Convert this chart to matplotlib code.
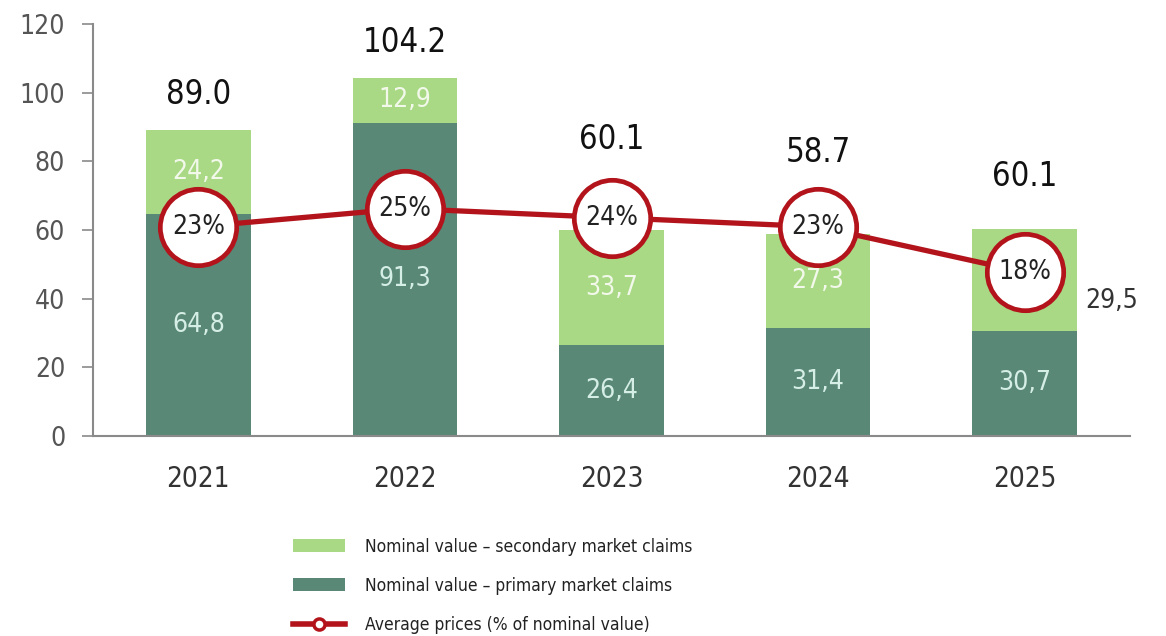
import matplotlib
matplotlib.use("Agg")
import matplotlib.pyplot as plt
from matplotlib.lines import Line2D
from matplotlib.patches import Patch

plt.rcParams["font.family"] = ["DejaVu Sans"]
plt.rcParams["font.stretch"] = "condensed"

years = ["2021", "2022", "2023", "2024", "2025"]
primary = [64.8, 91.3, 26.4, 31.4, 30.7]
secondary = [24.2, 12.9, 33.7, 27.3, 29.5]
totals = [89.0, 104.2, 60.1, 58.7, 60.1]
avg_price_pct = [23, 25, 24, 23, 18]

primary_labels = ["64,8", "91,3", "26,4", "31,4", "30,7"]
secondary_labels = ["24,2", "12,9", "33,7", "27,3", "29,5"]
total_labels = ["89.0", "104.2", "60.1", "58.7", "60.1"]

# heights at which the totals are printed (kept clear of the price markers)
total_label_y = [99.5, 114.5, 86.5, 82.5, 75.5]

C_LIGHT = "#a9d985"
C_DARK = "#598877"
C_RED = "#b3141c"
C_AXIS = "#8a8a8a"

fig = plt.figure(figsize=(11.66, 6.36), dpi=100)
ax = fig.add_axes([93 / 1166, 200 / 636, (1130 - 93) / 1166, 412 / 636])

x = list(range(len(years)))
w = 0.505
ax.bar(x, primary, width=w, color=C_DARK, zorder=2)
ax.bar(x, secondary, width=w, bottom=primary, color=C_LIGHT, zorder=2)

ax.set_xlim(-0.51, 4.51)
ax.set_ylim(0, 120)
ax.set_yticks(range(0, 121, 20))
ax.set_xticks(x)
ax.set_xticklabels(years)
for s in ("top", "right"):
    ax.spines[s].set_visible(False)
for s in ("left", "bottom"):
    ax.spines[s].set_color(C_AXIS)
    ax.spines[s].set_linewidth(1.5)
ax.tick_params(axis="y", length=8, width=1.2, color=C_AXIS, pad=12,
               labelsize=19, labelcolor="#555555")
ax.tick_params(axis="x", length=0, pad=21, labelsize=20, labelcolor="#333333")

for i in x:
    p, s = primary[i], secondary[i]
    ax.text(i, p / 2, primary_labels[i], ha="center", va="center",
            fontsize=19, color="#d6efe6", zorder=3)
    if i == 4:
        ax.text(i + 0.42, p + s / 2 - 6, secondary_labels[i], ha="center",
                va="center", fontsize=19, color="#333333", zorder=3)
    else:
        ax.text(i, p + s / 2, secondary_labels[i], ha="center", va="center",
                fontsize=19, color="#f2f9ea", zorder=3)
    ax.text(i, total_label_y[i], total_labels[i], ha="center", va="center",
            fontsize=23.5, color="#111111", zorder=3)

# average price line on its own hidden scale
ax2 = ax.twinx()
ax2.set_ylim(0, 120 / 2.65)
ax2.axis("off")
ax2.plot(x, avg_price_pct, color=C_RED, lw=3.8, zorder=4,
         marker="o", markersize=55, markerfacecolor="white",
         markeredgecolor=C_RED, markeredgewidth=3.4)
for i in x:
    ax2.text(i, avg_price_pct[i], f"{avg_price_pct[i]}%", ha="center",
             va="center", fontsize=19, color="#222222", zorder=5)

handles = [
    Patch(facecolor=C_LIGHT, edgecolor="none"),
    Patch(facecolor=C_DARK, edgecolor="none"),
    Line2D([0], [0], color=C_RED, lw=4, marker="o", markersize=8,
           markerfacecolor="white", markeredgecolor=C_RED, markeredgewidth=2.5),
]
labels = [
    "Nominal value \u2013 secondary market claims",
    "Nominal value \u2013 primary market claims",
    "Average prices (% of nominal value)",
]
fig.legend(handles, labels, loc="upper left",
           bbox_to_anchor=(277 / 1166, 1 - 522 / 636), frameon=False,
           fontsize=12.5, handlelength=3.0, handleheight=0.8,
           labelspacing=1.22, handletextpad=1.15, labelcolor="#222222")

fig.savefig("out.png", dpi=100)
